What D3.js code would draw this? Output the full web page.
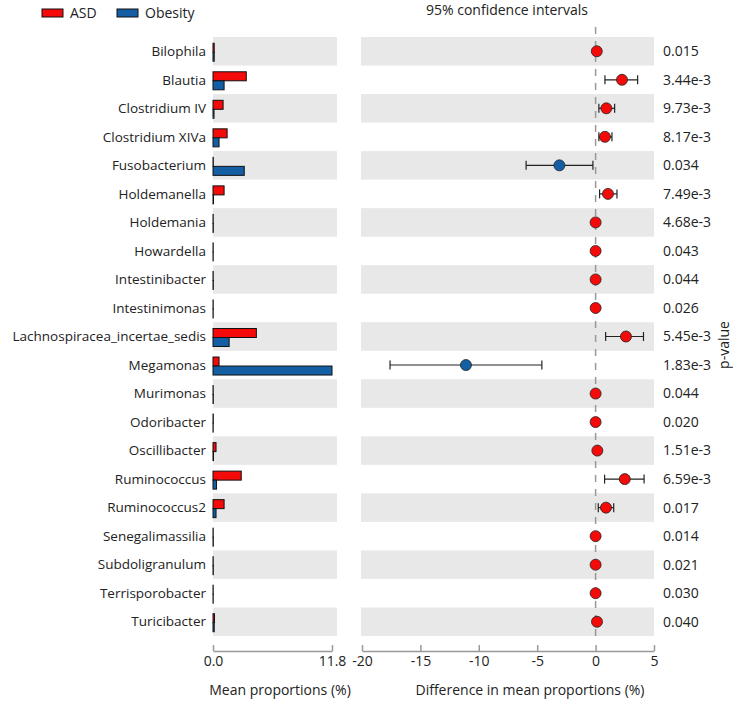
<!DOCTYPE html>
<html><head><meta charset="utf-8">
<script src="https://cdn.jsdelivr.net/npm/d3@7"></script>
<style>body{margin:0;background:#fff}svg{display:block}text{font-family:"Open Sans",sans-serif;fill:#222}</style>
</head><body><svg id="c" width="733" height="701"></svg>
<script>
const categories = ["Bilophila","Blautia","Clostridium IV","Clostridium XIVa","Fusobacterium","Holdemanella","Holdemania","Howardella","Intestinibacter","Intestinimonas","Lachnospiracea_incertae_sedis","Megamonas","Murimonas","Odoribacter","Oscillibacter","Ruminococcus","Ruminococcus2","Senegalimassilia","Subdoligranulum","Terrisporobacter","Turicibacter"];
const asdMean = [0.12,3.3,1.0,1.4,0.03,1.1,0.02,0.02,0.02,0.02,4.3,0.6,0.02,0.03,0.3,2.8,1.1,0.02,0.02,0.02,0.15];
const obesityMean = [0.12,1.1,0.1,0.6,3.1,0.05,0.03,0.02,0.03,0.02,1.6,11.8,0.03,0.02,0.05,0.35,0.3,0.03,0.03,0.02,0.12];
const diff = [0.1,2.26,0.92,0.8,-3.1,1.06,0.0,0.0,0.0,0.0,2.6,-11.1,0.0,0.0,0.15,2.5,0.89,0.0,0.0,0.0,0.12];
const ciLow = [0.05,0.8,0.28,0.28,-5.95,0.34,-0.03,-0.03,-0.03,-0.03,0.86,-17.6,-0.03,-0.03,0.08,0.77,0.23,-0.03,-0.03,-0.03,0.06];
const ciHigh = [0.15,3.6,1.63,1.4,-0.23,1.83,0.03,0.03,0.03,0.03,4.1,-4.6,0.03,0.03,0.22,4.15,1.55,0.03,0.03,0.03,0.18];
const pValues = ["0.015","3.44e-3","9.73e-3","8.17e-3","0.034","7.49e-3","4.68e-3","0.043","0.044","0.026","5.45e-3","1.83e-3","0.044","0.020","1.51e-3","6.59e-3","0.017","0.014","0.021","0.030","0.040"];
const groups = ["ASD","Obesity"];
const leftTicks = [0, 11.8];
const rightTicks = [-20,-15,-10,-5,0,5];

const colors = {ASD:"#f50a0a", Obesity:"#145ea4"};
const svg = d3.select("#c");
const fs = 14, fsLab = 13.5;

const y = d3.scaleBand().domain(categories).range([37,636]).paddingInner(0);
const xL = d3.scaleLinear().domain([0,11.8]).range([213,332]);
const xR = d3.scaleLinear().domain([-20,5]).range([362,654]);

// background bands
categories.forEach((c,i)=>{
  if(i%2===0){
    svg.append("rect").attr("x",213).attr("y",y(c)).attr("width",124).attr("height",y.bandwidth()).attr("fill","#e8e8e8");
    svg.append("rect").attr("x",361).attr("y",y(c)).attr("width",293).attr("height",y.bandwidth()).attr("fill","#e8e8e8");
  }
});

// category labels
svg.append("g").selectAll("text").data(categories).join("text")
  .attr("x",206).attr("y",d=>y(d)+y.bandwidth()/2).attr("dy","0.35em")
  .attr("text-anchor","end").attr("font-size",fsLab).text(d=>d);

// bars
const bh = 9;
const barG = svg.append("g");
categories.forEach((c,i)=>{
  const cy = y(c)+y.bandwidth()/2+1;
  barG.append("rect").attr("x",xL(0)).attr("y",cy-bh).attr("width",Math.max(0,xL(asdMean[i])-xL(0))).attr("height",bh)
    .attr("fill",colors.ASD).attr("stroke","#111").attr("stroke-width",1);
  barG.append("rect").attr("x",xL(0)).attr("y",cy).attr("width",Math.max(0,xL(obesityMean[i])-xL(0))).attr("height",bh)
    .attr("fill",colors.Obesity).attr("stroke","#111").attr("stroke-width",1);
});

// dashed zero line
svg.append("line").attr("x1",xR(0)).attr("x2",xR(0)).attr("y1",27).attr("y2",637)
  .attr("stroke","#999").attr("stroke-width",1.5).attr("stroke-dasharray","7,7");

// CI
const ciG = svg.append("g");
categories.forEach((c,i)=>{
  const cy = y(c)+y.bandwidth()/2;
  if(ciHigh[i]-ciLow[i] > 0.1){
    ciG.append("line").attr("x1",xR(ciLow[i])).attr("x2",xR(ciHigh[i])).attr("y1",cy).attr("y2",cy).attr("stroke","#222").attr("stroke-width",1.2);
    [ciLow[i],ciHigh[i]].forEach(v=>ciG.append("line").attr("x1",xR(v)).attr("x2",xR(v)).attr("y1",cy-4.5).attr("y2",cy+4.5).attr("stroke","#222").attr("stroke-width",1.2));
  }
  ciG.append("circle").attr("cx",xR(diff[i])).attr("cy",cy).attr("r",5.5)
    .attr("fill",diff[i]<0?colors.Obesity:colors.ASD).attr("stroke","#222").attr("stroke-width",0.8);
});

// p-values
svg.append("g").selectAll("text").data(categories).join("text")
  .attr("x",663).attr("y",d=>y(d)+y.bandwidth()/2).attr("dy","0.35em")
  .attr("font-size",fs).text((d,i)=>pValues[i]);

svg.append("text").attr("transform","translate(724,345) rotate(-90)").attr("text-anchor","middle").attr("dy","0.35em")
  .attr("font-size",fs).text("p-value");

// axes
const axY = 651;
const axL = svg.append("g").attr("transform",`translate(0,${axY})`)
  .call(d3.axisBottom(xL).tickValues(leftTicks).tickFormat(d3.format(".1f")).tickSizeInner(-6).tickSizeOuter(0).tickPadding(5));
const axR = svg.append("g").attr("transform",`translate(0,${axY})`)
  .call(d3.axisBottom(xR).tickValues(rightTicks).tickFormat(d=>d).tickSizeInner(-6).tickSizeOuter(0).tickPadding(5));
[axL,axR].forEach(a=>{
  a.select(".domain").attr("stroke","#999").attr("stroke-width",1.5);
  a.selectAll(".tick line").attr("stroke","#999").attr("stroke-width",1.5);
  a.selectAll(".tick text").attr("font-size",fs).attr("font-family","'Open Sans',sans-serif").attr("fill","#222");
});

svg.append("text").attr("x",280).attr("y",690).attr("text-anchor","middle").attr("dy","0.35em").attr("font-size",fs).text("Mean proportions (%)");
svg.append("text").attr("x",530).attr("y",690).attr("text-anchor","middle").attr("dy","0.35em").attr("font-size",fs).text("Difference in mean proportions (%)");
svg.append("text").attr("x",507).attr("y",10).attr("text-anchor","middle").attr("dy","0.35em").attr("font-size",fs).text("95% confidence intervals");

// legend
const lg = svg.append("g");
const legX = [42,117];
groups.forEach((g,i)=>{
  lg.append("rect").attr("x",legX[i]).attr("y",9).attr("width",21).attr("height",8).attr("fill",colors[g]).attr("stroke","#111").attr("stroke-width",1);
  lg.append("text").attr("x",legX[i]+28).attr("y",13).attr("dy","0.35em").attr("font-size",fs).text(g);
});
</script></body></html>
